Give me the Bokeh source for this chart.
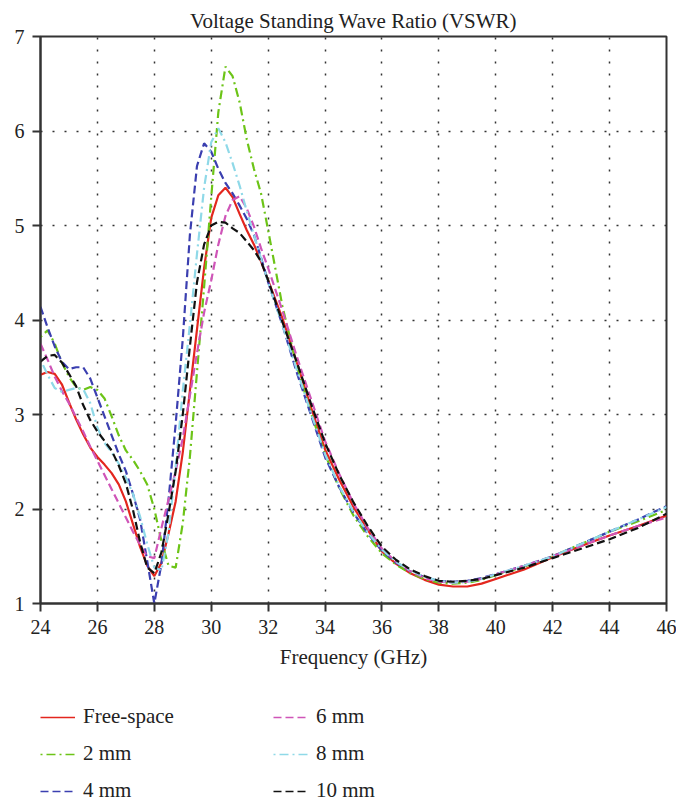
from bokeh.plotting import figure
from bokeh.models import Legend, LegendItem, Range1d, FixedTicker
from bokeh.layouts import column
from bokeh.embed import file_html
from bokeh.resources import INLINE

freq = [24, 24.25, 24.5, 24.75, 25, 25.25, 25.5, 25.75, 26, 26.25, 26.5, 26.75,
        27, 27.25, 27.5, 27.75, 28, 28.25, 28.5, 28.75, 29, 29.25, 29.5, 29.75,
        30, 30.25, 30.5, 30.75, 31, 31.25, 31.5, 31.75, 32, 32.5, 33, 33.5, 34,
        34.5, 35, 35.5, 36, 36.5, 37, 37.5, 38, 38.5, 39, 39.5, 40, 41, 42, 43,
        44, 45, 46]

vswr_free = [3.42, 3.45, 3.43, 3.32, 3.13, 2.95, 2.79, 2.65, 2.55, 2.47, 2.38, 2.26,
             2.08, 1.84, 1.60, 1.40, 1.29, 1.43, 1.74, 2.08, 2.60, 3.25, 3.90, 4.55,
             5.08, 5.32, 5.40, 5.30, 5.12, 4.95, 4.80, 4.62, 4.42, 4.02, 3.56, 3.08, 2.63,
             2.31, 2.02, 1.78, 1.55, 1.42, 1.32, 1.25, 1.20, 1.18, 1.18, 1.21, 1.26, 1.36,
             1.49, 1.61, 1.72, 1.82, 1.93]

vswr_2mm = [3.82, 3.89, 3.75, 3.55, 3.40, 3.29, 3.26, 3.29, 3.26, 3.17, 2.98, 2.78,
            2.62, 2.52, 2.40, 2.26, 2.00, 1.66, 1.40, 1.38, 1.85, 2.55, 3.45, 4.35,
            5.30, 6.20, 6.68, 6.58, 6.30, 5.91, 5.60, 5.34, 4.95, 4.15, 3.52, 3.02, 2.58,
            2.22, 1.93, 1.71, 1.53, 1.41, 1.32, 1.26, 1.22, 1.21, 1.22, 1.25, 1.30, 1.39,
            1.50, 1.63, 1.76, 1.87, 1.99]

vswr_4mm = [4.14, 3.92, 3.72, 3.56, 3.48, 3.50, 3.50, 3.38, 3.18, 2.98, 2.78, 2.58,
            2.40, 2.16, 1.89, 1.45, 1.00, 1.42, 2.10, 2.90, 3.80, 4.90, 5.63, 5.87,
            5.78, 5.60, 5.45, 5.34, 5.21, 5.07, 4.90, 4.66, 4.40, 3.95, 3.45, 3.00, 2.55,
            2.23, 1.96, 1.74, 1.56, 1.43, 1.34, 1.28, 1.24, 1.23, 1.24, 1.27, 1.31, 1.40,
            1.50, 1.63, 1.76, 1.89, 2.03]

vswr_6mm = [3.75, 3.58, 3.40, 3.25, 3.12, 2.97, 2.82, 2.66, 2.51, 2.36, 2.21, 2.06,
            1.91, 1.76, 1.62, 1.50, 1.48, 1.80, 2.10, 2.40, 2.75, 3.20, 3.65, 4.08,
            4.42, 4.80, 5.10, 5.27, 5.31, 5.18, 4.99, 4.76, 4.55, 4.10, 3.62, 3.17, 2.72,
            2.37, 2.06, 1.80, 1.58, 1.44, 1.34, 1.27, 1.23, 1.22, 1.23, 1.26, 1.31, 1.40,
            1.50, 1.61, 1.72, 1.82, 1.91]

vswr_8mm = [3.58, 3.42, 3.28, 3.24, 3.26, 3.28, 3.27, 3.12, 2.86, 2.70, 2.60, 2.48,
            2.33, 2.16, 1.92, 1.63, 1.38, 1.35, 1.75, 2.45, 3.25, 3.95, 4.70, 5.40,
            5.88, 6.03, 5.88, 5.66, 5.42, 5.15, 4.90, 4.65, 4.40, 3.95, 3.48, 3.02, 2.58,
            2.24, 1.97, 1.75, 1.57, 1.44, 1.35, 1.28, 1.24, 1.22, 1.23, 1.26, 1.31, 1.40,
            1.50, 1.63, 1.76, 1.89, 2.02]

vswr_10mm = [3.56, 3.62, 3.63, 3.55, 3.43, 3.30, 3.10, 2.94, 2.82, 2.72, 2.62, 2.46,
             2.27, 1.99, 1.65, 1.38, 1.32, 1.54, 1.95, 2.40, 3.00, 3.72, 4.40, 4.80,
             5.00, 5.04, 5.03, 4.97, 4.92, 4.83, 4.74, 4.62, 4.42, 3.98, 3.56, 3.12, 2.70,
             2.36, 2.07, 1.82, 1.60, 1.46, 1.36, 1.29, 1.24, 1.23, 1.24, 1.26, 1.30, 1.38,
             1.48, 1.58, 1.68, 1.80, 1.95]

labels = ["Free-space", "2 mm", "4 mm", "6 mm", "8 mm", "10 mm"]
x_ticks = [24, 26, 28, 30, 32, 34, 36, 38, 40, 42, 44, 46]
y_ticks = [1, 2, 3, 4, 5, 6, 7]

series = [vswr_free, vswr_2mm, vswr_4mm, vswr_6mm, vswr_8mm, vswr_10mm]
colors = ["#e3261e", "#6cc417", "#3b3fb0", "#cf55b8", "#8fd9e8", "#111111"]
dashes = ["solid", "2 4 9 4", "8 4", "8 4", "2 4 9 4", "8 4"]
widths = [2.2, 2.2, 2.2, 2.2, 2.2, 2.2]

FONT = "Liberation Serif"

p = figure(width=676, height=680, output_backend="svg", toolbar_location=None,
           x_range=Range1d(24, 46), y_range=Range1d(1, 7),
           min_border_left=40, min_border_right=10, min_border_top=36,
           min_border_bottom=77)

p.title.text = "Voltage Standing Wave Ratio (VSWR)"
p.title.align = "center"
p.title.text_font = FONT
p.title.text_font_size = "21px"
p.title.text_font_style = "normal"
p.title.text_color = "#222222"
p.title.offset = 0
p.title.standoff = 8

for ys, c, d, w in zip(series, colors, dashes, widths):
    p.line(freq, ys, line_color=c, line_dash=d, line_width=w)

p.xaxis.ticker = FixedTicker(ticks=x_ticks)
p.yaxis.ticker = FixedTicker(ticks=y_ticks)
p.xaxis.axis_label = "Frequency (GHz)"
for ax in (p.xaxis[0], p.yaxis[0]):
    ax.axis_line_color = "#333333"
    ax.axis_line_width = 2
    ax.major_tick_line_color = "#333333"
    ax.major_tick_line_width = 2
    ax.major_tick_out = 8
    ax.major_tick_in = 0
    ax.minor_tick_line_color = None
    ax.major_label_text_font = FONT
    ax.major_label_text_font_size = "20px"
    ax.major_label_text_color = "#222222"
    ax.major_label_standoff = 8
    ax.axis_label_text_font = FONT
    ax.axis_label_text_font_size = "21px"
    ax.axis_label_text_font_style = "normal"
    ax.axis_label_text_color = "#222222"
    ax.axis_label_standoff = 8

p.outline_line_color = "#333333"
p.outline_line_width = 2
p.outline_line_alpha = 1

p.xgrid.ticker = FixedTicker(ticks=x_ticks)
p.ygrid.ticker = FixedTicker(ticks=y_ticks)
for g in (p.xgrid[0], p.ygrid[0]):
    g.grid_line_color = "#333333"
    g.grid_line_dash = "2 10"
    g.grid_line_width = 1.5

# legend strip below the chart (its lines hold the same data, outside its view)
leg = figure(width=676, height=123, output_backend="svg", toolbar_location=None,
             x_range=Range1d(0, 1), y_range=Range1d(0, 1),
             x_axis_location=None, y_axis_location=None,
             min_border=0, outline_line_color=None)
leg.grid.visible = False
leg_renderers = []
for ys, c, d in zip(series, colors, dashes):
    leg_renderers.append(leg.line(freq, ys, line_color=c, line_dash=d, line_width=1.6))

items = [LegendItem(label=l, renderers=[r]) for l, r in zip(labels, leg_renderers)]
legend = Legend(items=items, orientation="vertical", ncols=2,
                location=(0, 0), margin=0, padding=0,
                glyph_width=35, glyph_height=20, label_standoff=8,
                label_width=178, label_height=20, spacing=12,
                label_text_font=FONT, label_text_font_size="21px",
                label_text_color="#222222",
                border_line_color=None, background_fill_alpha=0)
leg.add_layout(legend, "center")

layout = column(p, leg, spacing=0)
open("out.html", "w").write(file_html(layout, INLINE))
